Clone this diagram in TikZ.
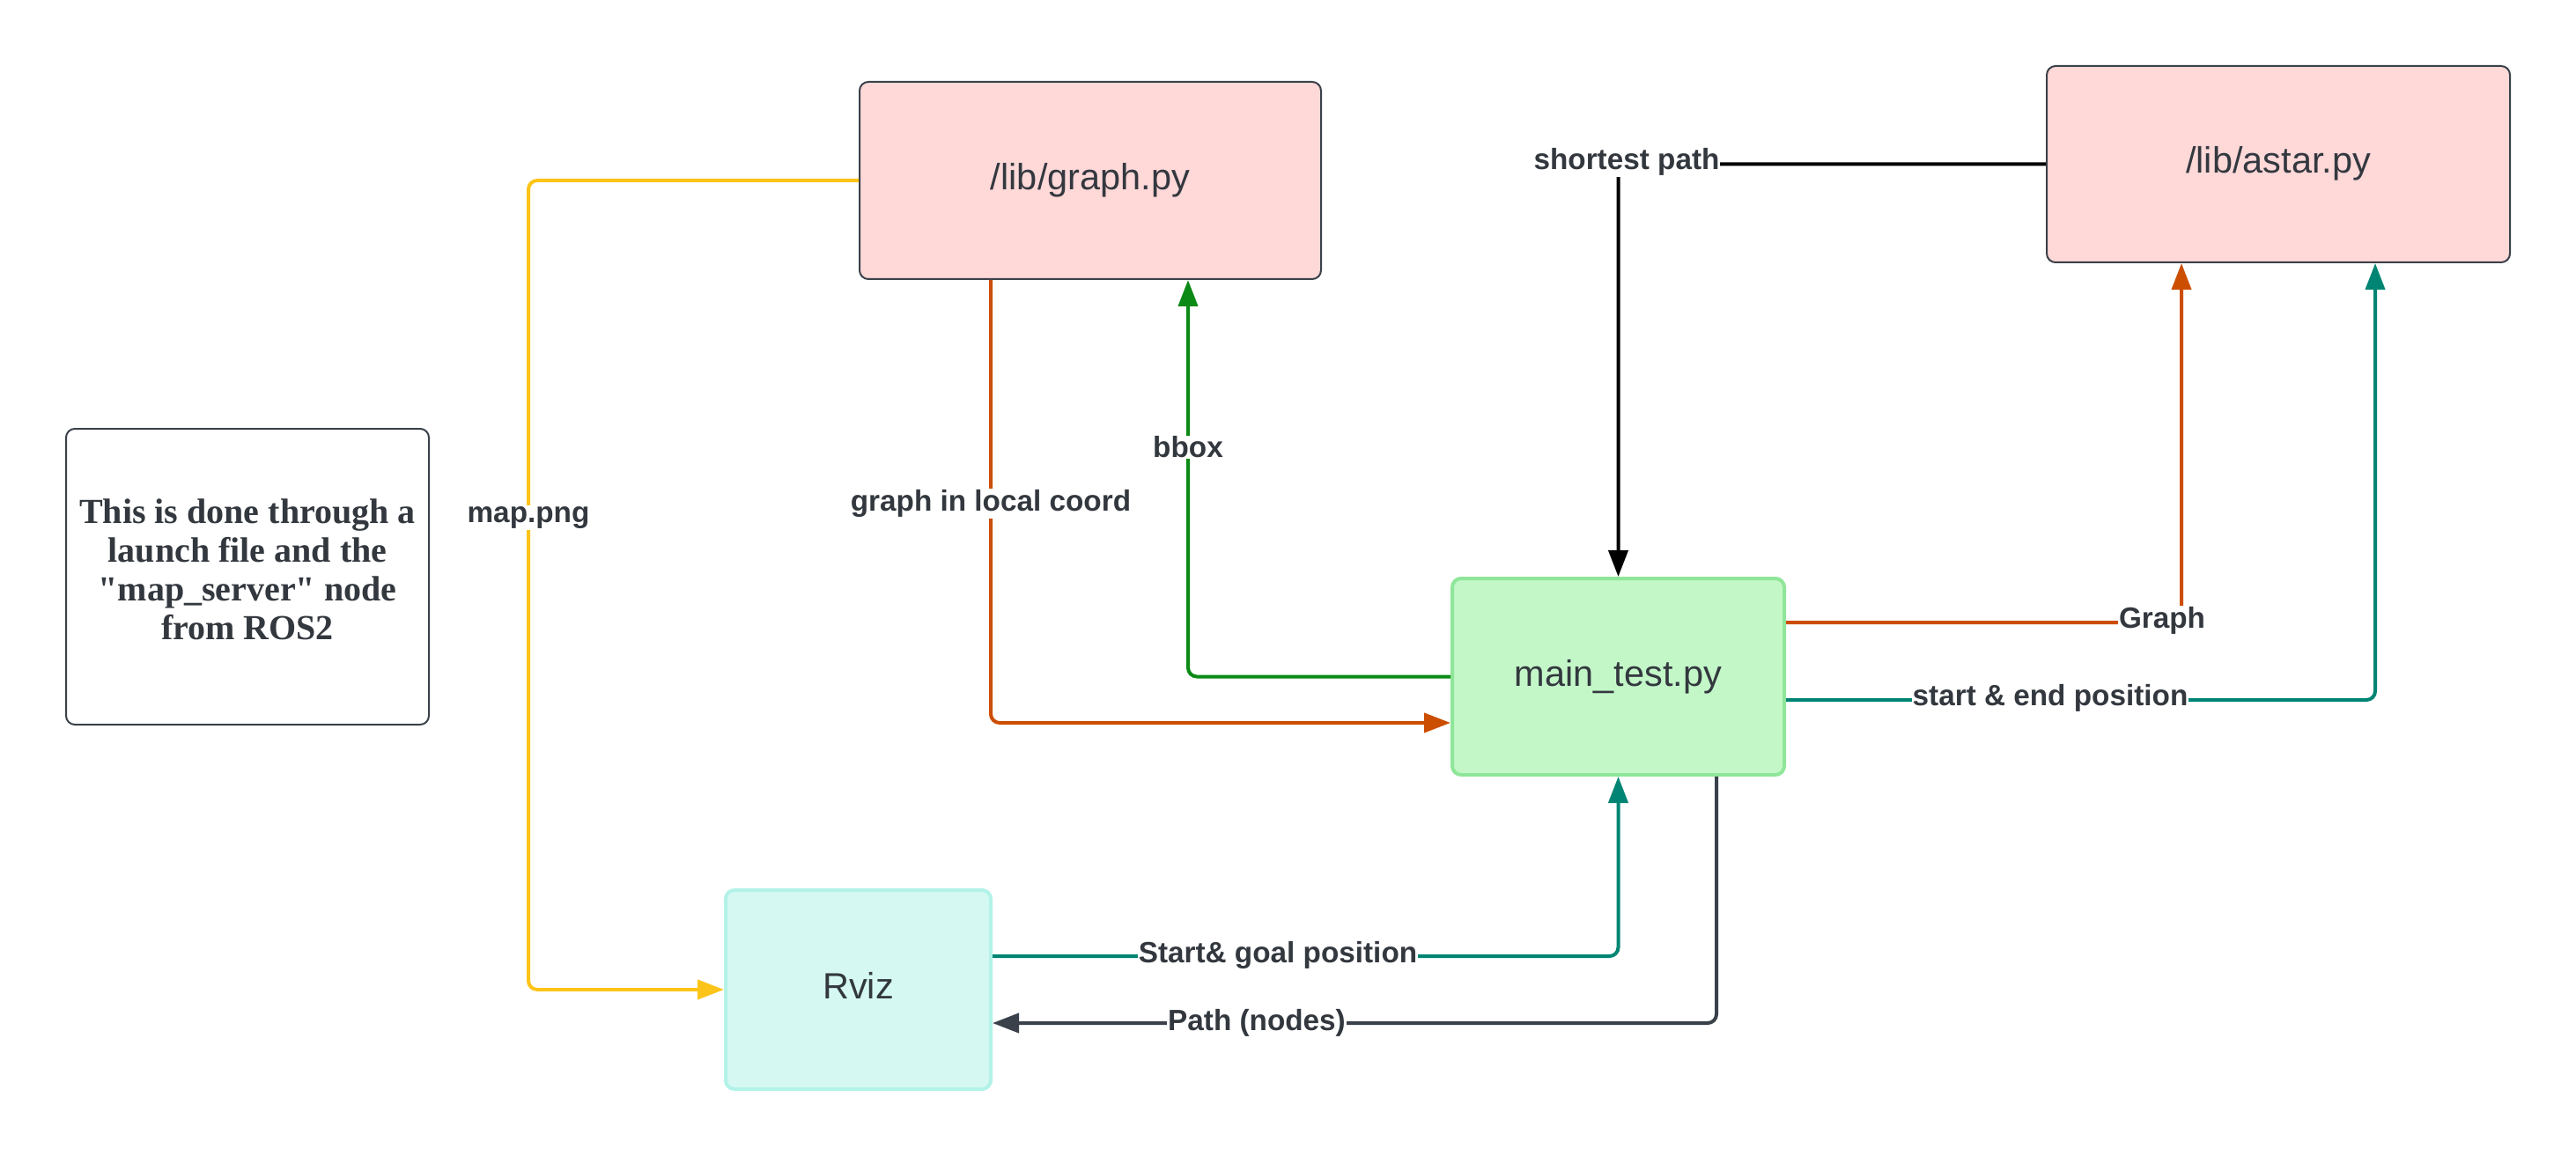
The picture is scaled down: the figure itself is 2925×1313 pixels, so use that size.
\documentclass[tikz,border=0pt]{standalone}
\usepackage{fontspec}
\setsansfont{Liberation Sans}
\newfontfamily\notefont{Liberation Serif}
\usetikzlibrary{arrows.meta}
\definecolor{txt}{HTML}{33383F}
\definecolor{bdr}{HTML}{3A414A}
\definecolor{pinkf}{HTML}{FFD8D8}
\definecolor{greenf}{HTML}{C3F7C8}
\definecolor{greenb}{HTML}{8FE699}
\definecolor{cyanf}{HTML}{D5F9F2}
\definecolor{cyanb}{HTML}{B2F2E8}
\definecolor{yelc}{HTML}{FCC419}
\definecolor{orac}{HTML}{CC4E00}
\definecolor{grnc}{HTML}{0B8A15}
\definecolor{tealc}{HTML}{008574}
\definecolor{darkc}{HTML}{3A414A}
\tikzset{
  box/.style={draw=bdr, line width=2pt, rounded corners=10pt, text=txt,
    font=\sffamily\fontsize{41.5}{50}\selectfont, align=center, inner sep=0pt,
    text height=30pt, text depth=9pt},
  notebox/.style={draw=bdr, line width=2pt, rounded corners=10pt, fill=white},
  notetxt/.style={text=txt, align=center, inner sep=0pt,
    font=\notefont\bfseries\fontsize{40}{44}\selectfont},
  conn/.style={line width=4pt, rounded corners=10pt},
  arr/.style={-{Triangle[length=30pt,width=22pt]}},
  lbl/.style={fill=white, inner sep=1pt, text=txt,
    font=\sffamily\bfseries\fontsize{33.3}{38}\selectfont}
}
\begin{document}
\begin{tikzpicture}[x=1pt,y=-1pt]
\useasboundingbox (0,0) rectangle (2925,1313);
% boxes
\node[box, fill=pinkf, minimum width=524pt, minimum height=224pt] (graph) at (1238,205) {/lib/graph.py};
\node[box, fill=pinkf, minimum width=526pt, minimum height=223pt] (astar) at (2587,186.5) {/lib/astar.py};
\node[box, fill=greenf, draw=greenb, line width=4pt, minimum width=377pt, minimum height=223pt] (main) at (1837.5,768.5) {main\_test.py};
\node[box, fill=cyanf, draw=cyanb, line width=4pt, minimum width=301pt, minimum height=226pt] (rviz) at (974.5,1124) {Rviz};
\node[notebox, minimum width=412pt, minimum height=336pt] (note) at (281,655) {};
\node[notetxt] (notetext) at (281,647)
  {This is done through a\\launch file and the\\"map\_server" node\\from ROS2};
% x levels
\coordinate (yx) at (600,0);
\coordinate (o1) at (1125,0);
\coordinate (g1) at (1349,0);
\coordinate (o2) at (2477,0);
\coordinate (t2) at (2697,0);
\coordinate (d1) at (1949,0);
% connectors
\draw[conn, arr, yelc] (graph.west) -- (graph.west -| yx) |- (rviz.west);
\node[lbl] (lmap) at (600,588) {map.png};
\draw[conn, arr, orac] (graph.south -| o1) |- ([yshift=-52.5pt]main.west);
\node[lbl] (lgl) at (1125,572) {graph in local coord};
\draw[conn, arr, grnc] (main.west) -| (graph.south -| g1);
\node[lbl] (lbb) at (1349,508) {bbox};
\draw[conn, arr, black] (astar.west) -| (main.north);
\node[lbl] (lsp) at (1847,184) {shortest path};
\draw[conn, arr, orac] ([yshift=61.5pt]main.east) -| (astar.south -| o2);
\node[lbl] (lgr) at (2455,705) {Graph};
\draw[conn, arr, tealc] ([yshift=-26.5pt]main.east) -| (astar.south -| t2);
\node[lbl] (lse) at (2328,793) {start \& end position};
\draw[conn, arr, tealc] ([yshift=38pt]rviz.east) -| (main.south);
\node[lbl] (lsg) at (1451,1085) {Start\& goal position};
\draw[conn, arr, darkc] (main.south -| d1) |- ([yshift=-38pt]rviz.east);
\node[lbl] (lpn) at (1427,1162) {Path (nodes)};
\end{tikzpicture}
\end{document}
